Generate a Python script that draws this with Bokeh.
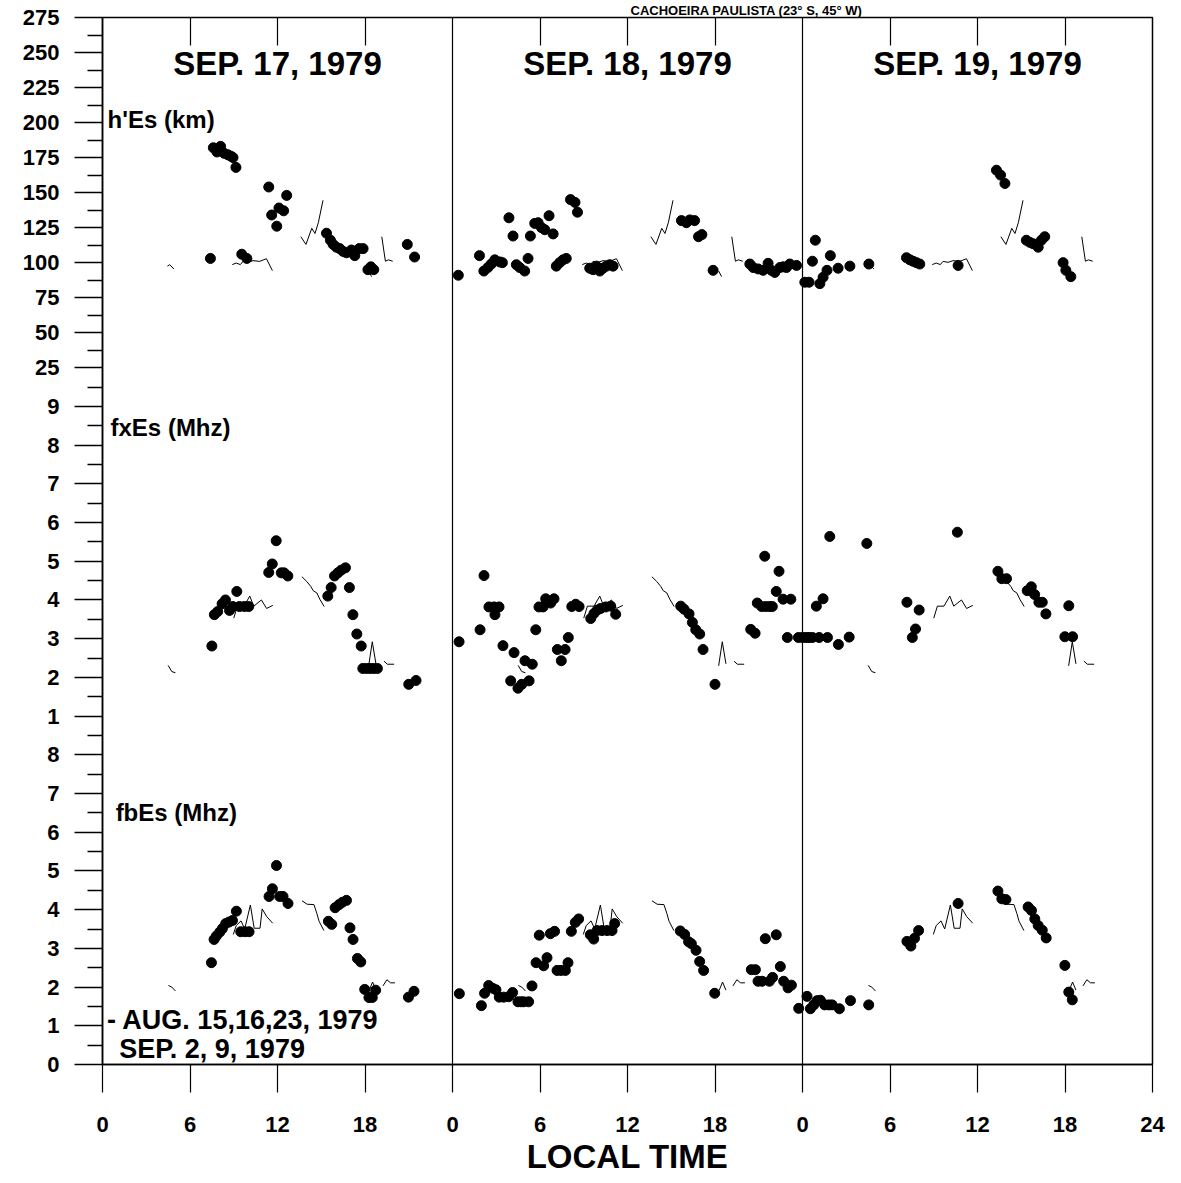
import math
from bokeh.plotting import figure
from bokeh.models import Range1d, LinearAxis, FixedTicker, CustomJSTickFormatter, Span
from bokeh.core.properties import value
from bokeh.embed import file_html
from bokeh.resources import INLINE

FONT = "Liberation Sans"
nan = float("nan")

# ---------------- text / tick labels ----------------
chart_title = "CACHOEIRA PAULISTA (23\u00b0 S, 45\u00b0 W)"
day_titles = ["SEP. 17, 1979", "SEP. 18, 1979", "SEP. 19, 1979"]
panel_names = ["h'Es (km)", "fxEs (Mhz)", "fbEs (Mhz)"]
legend_lines = ["- AUG. 15,16,23, 1979", "SEP. 2, 9, 1979"]
x_tick_hours = [0, 6, 12, 18, 24, 30, 36, 42, 48, 54, 60, 66, 72]
x_tick_labels = ["0", "6", "12", "18", "0", "6", "12", "18", "0", "6", "12", "18", "24"]
fb_tick_labels = [0, 1, 2, 3, 4, 5, 6, 7, 8]
fx_tick_labels = [1, 2, 3, 4, 5, 6, 7, 8, 9]
hes_tick_labels = [25, 50, 75, 100, 125, 150, 175, 200, 225, 250, 275]

# ---------------- h'Es (km) observed ----------------
hes_hour_sep17 = [7.4, 7.6, 7.85, 8.1, 8.35, 8.6, 8.8, 8.95, 9.15, 9.55, 9.9, 11.4, 11.6, 11.95, 12.1, 12.42, 12.63,
                  15.36, 15.63, 15.82, 16.04, 16.27, 16.5, 16.73, 17.07, 17.3, 17.6, 17.87, 18.2, 18.4, 18.6, 20.9, 21.4]
hes_km_sep17 = [103, 182, 179, 183, 178, 177, 176, 175, 168, 106, 103, 154, 134, 126, 139, 137, 148,
                121, 116, 113, 111, 110, 108, 107, 109, 105, 110, 110, 95, 97, 95, 113, 104]
hes_hour_sep18 = [0.4, 1.85, 2.15, 2.43, 2.66, 2.9, 3.24, 3.42, 3.87, 4.15, 4.38, 4.61, 4.95, 5.18, 5.34, 5.64, 5.87,
                  6.1, 6.33, 6.62, 6.9, 7.12, 7.35, 7.58, 7.8, 8.09, 8.4, 8.57, 9.41, 9.64, 9.87, 10.1, 10.32, 10.55,
                  10.78, 11.01, 15.7, 16.04, 16.27, 16.6, 16.87, 17.1, 17.87, 20.39, 20.62, 20.96, 21.3, 21.64, 21.87,
                  22.1, 22.45, 22.67, 22.9, 23.13, 23.59]
hes_km_sep18 = [91, 105, 94, 96.5, 99, 102, 100.5, 100, 132, 119, 98.5, 96.5, 94, 103, 119, 128, 128.5,
                125, 123.5, 133.5, 120.5, 97.5, 100, 102, 103, 145, 143, 136, 96, 95, 97.5, 94, 96, 97.5,
                98.5, 97.5, 130, 128.5, 130.5, 130, 118.5, 120, 94.5, 99, 96.5, 95.5, 94.5, 99.5, 94.5,
                93, 96.5, 97, 96.5, 99, 98]
hes_hour_sep19 = [0.16, 0.45, 0.68, 0.88, 1.19, 1.41, 1.68, 1.91, 2.44, 3.25, 4.55, 7.13, 7.36, 7.58, 7.81, 8.04,
                  10.67, 13.3, 13.58, 13.88, 15.35, 15.58, 15.81, 16.16, 16.38, 16.61, 17.87, 18.06, 18.4]
hes_km_sep19 = [86, 86, 101, 116, 85, 89.5, 94.5, 105, 96, 97.5, 99, 103.5, 102, 101, 100, 99,
                98, 166, 162.5, 156.5, 116, 114.5, 113.5, 111, 116, 118.5, 100, 94.5, 90]

# ---------------- fxEs (MHz) observed ----------------
fx_hour_sep17 = [7.5, 7.67, 7.9, 8.2, 8.43, 8.71, 8.94, 9.21, 9.39, 9.73, 10.03, 11.4, 11.64, 11.91, 12.26, 12.45,
                 12.71, 15.45, 15.68, 15.91, 16.14, 16.37, 16.66, 16.93, 17.17, 17.44, 17.74, 17.85, 18.1, 18.35,
                 18.6, 18.85, 21.0, 21.5]
fx_mhz_sep17 = [2.81, 3.62, 3.70, 3.90, 4.0, 3.73, 3.83, 4.22, 3.83, 3.83, 3.83, 4.71, 4.93, 5.53, 4.70, 4.70,
                4.62, 4.10, 4.32, 4.62, 4.70, 4.77, 4.83, 4.32, 3.62, 3.12, 2.81, 2.23, 2.23, 2.23,
                2.23, 2.23, 1.82, 1.92]
fx_hour_sep18 = [0.45, 1.89, 2.16, 2.5, 2.85, 2.91, 3.19, 3.46, 3.99, 4.22, 4.49, 4.75, 4.97, 5.25, 5.47, 5.71,
                 5.93, 6.21, 6.39, 6.73, 6.96, 7.19, 7.46, 7.72, 7.94, 8.18, 8.45, 8.68, 9.48, 9.7, 9.93, 10.16,
                 10.51, 10.85, 11.19, 15.65, 15.88, 16.22, 16.45, 16.68, 16.95, 17.18, 18.0, 20.45, 20.75, 20.9,
                 21.2, 21.48, 21.75, 21.93, 21.41, 22.2, 22.39, 22.67, 23.2, 22.96, 23.72]
fx_mhz_sep18 = [2.92, 3.23, 4.63, 3.82, 3.82, 3.62, 3.82, 2.82, 1.91, 2.64, 1.72, 1.82, 2.43, 1.91, 2.34, 3.23,
                3.82, 3.82, 4.03, 3.92, 4.03, 2.72, 2.43, 2.72, 3.03, 3.83, 3.89, 3.83, 3.52, 3.65, 3.74, 3.78,
                3.82, 3.84, 3.63, 3.84, 3.76, 3.64, 3.42, 3.23, 3.12, 2.72, 1.82, 3.24, 3.14, 3.92,
                3.83, 3.83, 3.83, 3.83, 5.13, 4.22, 4.74, 4.02, 4.02, 3.03, 3.03]
fx_hour_sep19 = [0.0, 0.23, 0.45, 0.68, 1.14, 1.71, 0.95, 1.41, 1.87, 2.46, 3.2, 4.41, 7.16, 7.53, 7.75, 8.0,
                 10.62, 13.4, 13.67, 13.99, 15.41, 15.69, 15.92, 16.21, 16.44, 16.69, 17.99, 18.26, 18.52]
fx_mhz_sep19 = [3.03, 3.03, 3.03, 3.03, 3.03, 3.03, 3.84, 4.03, 5.64, 2.85, 3.04, 5.46, 3.94, 3.03, 3.25, 3.74,
                5.75, 4.74, 4.55, 4.55, 4.24, 4.34, 4.14, 3.94, 3.94, 3.64, 3.05, 3.85, 3.05]

# ---------------- fbEs (MHz) observed ----------------
fb_hour_sep17 = [7.47, 7.65, 7.81, 8.04, 8.22, 8.45, 8.68, 8.91, 9.18, 9.48, 9.77, 10.05, 11.42, 11.65, 11.93,
                 12.15, 12.38, 12.72, 15.49, 15.72, 15.95, 16.22, 16.45, 16.73, 16.97, 17.18, 17.48, 17.71,
                 17.98, 18.27, 18.5, 18.73, 20.98, 21.36]
fb_mhz_sep17 = [2.63, 3.23, 3.32, 3.42, 3.51, 3.64, 3.68, 3.72, 3.96, 3.43, 3.43, 3.43, 4.34, 4.54, 5.14,
                4.34, 4.34, 4.16, 3.70, 3.62, 4.05, 4.13, 4.19, 4.24, 3.53, 3.23, 2.74, 2.65,
                1.94, 1.73, 1.73, 1.92, 1.74, 1.89]
fb_hour_sep18 = [0.47, 1.98, 2.2, 2.48, 2.75, 2.98, 3.21, 3.51, 3.85, 4.12, 4.49, 4.7, 4.88, 5.22, 5.45, 5.73,
                 5.95, 6.25, 6.48, 6.71, 7.0, 7.17, 7.44, 7.74, 7.92, 8.15, 8.42, 8.65, 9.45, 9.68, 9.91, 10.25,
                 10.6, 10.94, 11.12, 15.62, 15.92, 16.19, 16.38, 16.7, 16.95, 17.22, 17.98, 20.49, 20.77, 20.95,
                 21.23, 21.45, 21.73, 21.95, 22.2, 22.48, 22.71, 23.01, 23.24, 23.74]
fb_mhz_sep18 = [1.83, 1.52, 1.84, 2.04, 1.97, 1.93, 1.74, 1.74, 1.75, 1.86, 1.62, 1.62, 1.62, 1.62, 2.03, 2.63,
                3.34, 2.55, 2.76, 3.38, 3.44, 2.43, 2.43, 2.43, 2.63, 3.44, 3.67, 3.76, 3.35, 3.24, 3.46, 3.46,
                3.46, 3.46, 3.64, 3.45, 3.36, 3.17, 3.12, 2.95, 2.66, 2.43, 1.84, 2.45, 2.45, 2.15,
                2.15, 3.25, 2.15, 2.25, 3.35, 2.53, 2.15, 1.98, 2.05, 1.45]
fb_hour_sep19 = [0.31, 0.54, 0.77, 1.0, 1.23, 1.52, 1.8, 2.03, 2.53, 3.29, 4.54, 7.16, 7.43, 7.68, 7.96, 10.67,
                 13.4, 13.67, 13.95, 15.47, 15.7, 15.93, 16.16, 16.44, 16.71, 17.99, 18.26, 18.5]
fb_mhz_sep19 = [1.76, 1.44, 1.54, 1.65, 1.66, 1.54, 1.54, 1.54, 1.44, 1.65, 1.54, 3.18, 3.06, 3.26, 3.46, 4.16,
                4.48, 4.28, 4.26, 4.07, 3.98, 3.76, 3.59, 3.47, 3.27, 2.56, 1.87, 1.67]

# ---------------- reference curve (AUG. 15,16,23 / SEP. 2, 9, 1979), repeated each day ----------------
ref_hes_hour = [4.45, 4.6, 4.9, nan, 8.9, 9.17, 9.45, 9.64, 9.98, 10.32, 10.78, 11.24, 11.65, nan,
                13.6, 13.95, 14.35, 14.57, 14.8, 15.12, nan, 18.25, 18.45, nan, 19.15, 19.4, 19.6, 19.9]
ref_hes_km = [97.5, 98.5, 95.5, nan, 98.6, 99.7, 98.6, 100.9, 100.2, 101.4, 100.9, 102.8, 94.3, nan,
              118.5, 113, 124.5, 120.8, 128.5, 144.5, nan, 94, 90, nan, 118.5, 101, 102, 101]
ref_fx_hour = [4.5, 4.75, 5.0, nan, 9.0, 9.25, 9.7, 10.1, 10.37, 10.9, 11.25, 11.68, nan,
               13.67, 14.0, 14.28, 14.45, 14.7, 14.9, 15.2, nan, 18.25, 18.5, 18.75, nan, 19.3, 19.53, 20.0]
ref_fx_mhz = [2.31, 2.15, 2.12, nan, 3.53, 3.84, 3.84, 4.1, 3.84, 4.0, 3.78, 3.86, nan,
              4.6, 4.48, 4.35, 4.24, 4.18, 4.02, 3.83, nan, 2.3, 2.92, 2.35, nan, 2.42, 2.34, 2.34]
ref_fb_hour = [4.52, 4.75, 5.0, nan, 8.97, 9.17, 9.5, 9.75, 10.14, 10.4, 10.8, 10.95, 11.26, 11.67, nan,
               13.68, 14.03, 14.5, 14.7, 14.85, 15.18, nan, 18.28, 18.52, 18.75, nan, 19.23, 19.5, 19.75, 20.05]
ref_fb_mhz = [2.04, 2.0, 1.9, nan, 3.36, 3.59, 3.71, 3.5, 4.12, 3.52, 3.52, 4.02, 3.82, 3.65, nan,
              4.23, 4.14, 4.13, 3.9, 3.7, 3.46, nan, 1.91, 2.13, 1.92, nan, 2.03, 2.19, 2.11, 2.11]

# ---------------- stacked axis layout ----------------
HES_STEP = 0.9046          # axis slots per 25 km (h'Es band is drawn a little tighter)
SLOT_TOP = 18 + (len(hes_tick_labels) - 1) * HES_STEP


def fb_slot(v):
    return v


def fx_slot(v):
    return 8 + v


def hes_slot(h):
    return 18 + (h - 25) / 25 * HES_STEP


y_ticks = [fb_slot(v) for v in fb_tick_labels] + [fx_slot(v) for v in fx_tick_labels] + \
          [hes_slot(h) for h in hes_tick_labels]
y_labels = [str(v) for v in fb_tick_labels + fx_tick_labels + hes_tick_labels]
y_minor = [(a + b) / 2 for a, b in zip(y_ticks[:-1], y_ticks[1:])]

p = figure(width=1178, height=1182, output_backend="svg", toolbar_location=None,
           x_range=Range1d(0, 72), y_range=Range1d(0, SLOT_TOP),
           x_axis_type=None, y_axis_type=None,
           min_border_left=102, min_border_right=26, min_border_top=15, min_border_bottom=118)
p.extra_y_ranges = {
    "fx": Range1d(-8, SLOT_TOP - 8),
    "hes": Range1d(25 - 18 * 25 / HES_STEP, 25 + (SLOT_TOP - 18) * 25 / HES_STEP),
}
p.background_fill_color = "white"
p.border_fill_color = "white"
p.outline_line_color = "black"
p.outline_line_width = 1.5

# chart title squeezed into the strip above the frame
p.title.text = chart_title
p.title.align = "left"
p.title.offset = 528
p.title.standoff = 0
p.title.text_font = FONT
p.title.text_font_style = "bold"
p.title.text_font_size = "13px"
p.title.text_color = "black"

nearest_label_js = """
let best = 0;
for (let i = 0; i < pos.length; i++) {
  if (Math.abs(pos[i] - tick) < Math.abs(pos[best] - tick)) best = i;
}
return labels[best];
"""

# left axis
yaxis = LinearAxis(ticker=FixedTicker(ticks=y_ticks, minor_ticks=y_minor),
                   formatter=CustomJSTickFormatter(code=nearest_label_js,
                                                   args=dict(pos=y_ticks, labels=y_labels)))
yaxis.major_tick_out = 28
yaxis.major_tick_in = 0
yaxis.minor_tick_out = 15
yaxis.minor_tick_in = 0
yaxis.major_label_standoff = 15
yaxis.axis_line_width = 1.5
yaxis.major_tick_line_width = 1.5
yaxis.minor_tick_line_width = 1.5
yaxis.major_label_text_font = FONT
yaxis.major_label_text_font_style = "bold"
yaxis.major_label_text_font_size = "22px"
yaxis.major_label_text_color = "black"
p.add_layout(yaxis, "left")

# bottom axis
xaxis = LinearAxis(ticker=FixedTicker(ticks=x_tick_hours, minor_ticks=[]),
                   formatter=CustomJSTickFormatter(code=nearest_label_js,
                                                   args=dict(pos=x_tick_hours, labels=x_tick_labels)))
xaxis.major_tick_out = 28
xaxis.major_tick_in = 0
xaxis.major_label_standoff = 24
xaxis.axis_line_width = 1.5
xaxis.major_tick_line_width = 1.2
xaxis.major_label_text_font = FONT
xaxis.major_label_text_font_style = "bold"
xaxis.major_label_text_font_size = "22px"
xaxis.major_label_text_color = "black"
xaxis.axis_label = "LOCAL TIME"
xaxis.axis_label_standoff = 3
xaxis.axis_label_text_font = FONT
xaxis.axis_label_text_font_style = "bold"
xaxis.axis_label_text_font_size = "33px"
xaxis.axis_label_text_color = "black"
p.add_layout(xaxis, "below")

# top inner ticks at 6, 12, 18 h of each day
top_ticks = [h for h in x_tick_hours if h % 24 != 0]
taxis = LinearAxis(ticker=FixedTicker(ticks=top_ticks, minor_ticks=[]),
                   formatter=CustomJSTickFormatter(code="return '';"))
taxis.major_tick_in = 28
taxis.major_tick_out = 0
taxis.major_label_standoff = 0
taxis.major_label_text_font_size = "0px"
taxis.axis_line_color = None
taxis.major_tick_line_width = 1.2
p.add_layout(taxis, "above")

# day separators
for h in x_tick_hours:
    if h % 24 == 0 and 0 < h < 72:
        p.add_layout(Span(location=h, dimension="height", line_color="black", line_width=1.2))


def along(hours_by_day):
    out = []
    for d, hrs in enumerate(hours_by_day):
        out += [h + 24 * d for h in hrs]
    return out


def repeat_ref(hours, vals, ndays=3):
    xs, ys = [], []
    for d in range(ndays):
        xs += [h + 24 * d for h in hours] + [nan]
        ys += list(vals) + [nan]
    return xs, ys


panels = [
    ("hes", [hes_hour_sep17, hes_hour_sep18, hes_hour_sep19], hes_km_sep17 + hes_km_sep18 + hes_km_sep19,
     ref_hes_hour, ref_hes_km),
    ("fx", [fx_hour_sep17, fx_hour_sep18, fx_hour_sep19], fx_mhz_sep17 + fx_mhz_sep18 + fx_mhz_sep19,
     ref_fx_hour, ref_fx_mhz),
    ("default", [fb_hour_sep17, fb_hour_sep18, fb_hour_sep19], fb_mhz_sep17 + fb_mhz_sep18 + fb_mhz_sep19,
     ref_fb_hour, ref_fb_mhz),
]
for rname, hrs, vals, rh, rv in panels:
    rx, ry = repeat_ref(rh, rv)
    p.line(rx, ry, y_range_name=rname, line_color="black", line_width=1.0)
    p.scatter(along(hrs), vals, y_range_name=rname, marker="circle", size=10,
              fill_color="black", line_color="black")

# day titles
p.text(x=[12 + 24 * i for i in range(len(day_titles))], y=[25.85] * len(day_titles), text=day_titles,
       text_font=value(FONT), text_font_style="bold", text_font_size="33px",
       text_align="center", text_baseline="middle", text_color="black")

# panel names
p.text(x=[0.35, 0.55, 0.9], y=[24.42, 16.46, 6.52], text=panel_names,
       text_font=value(FONT), text_font_style="bold", text_font_size="24px",
       text_align="left", text_baseline="middle", text_color="black")

# reference-days note
p.text(x=[0.3, 1.15], y=[1.16, 0.39], text=legend_lines,
       text_font=value(FONT), text_font_style="bold", text_font_size="27px",
       text_align="left", text_baseline="middle", text_color="black")

open("out.html", "w").write(file_html(p, INLINE))
